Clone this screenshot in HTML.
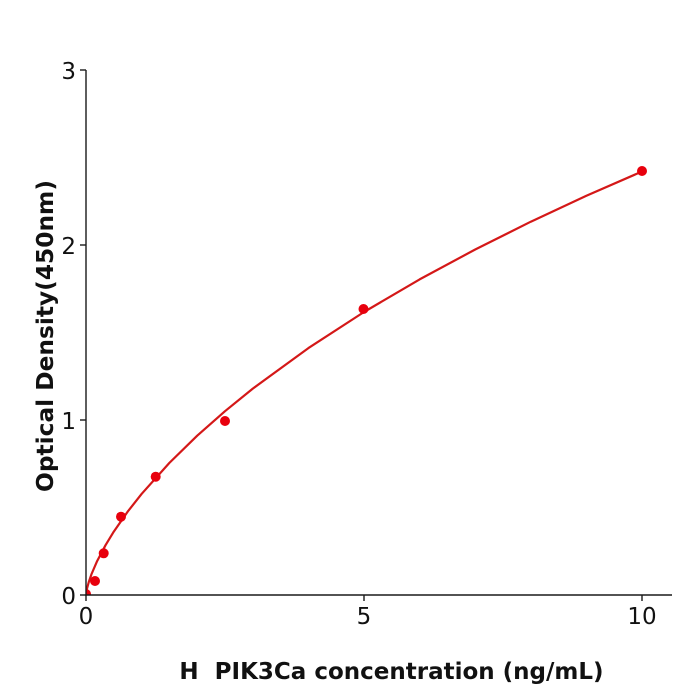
<!DOCTYPE html>
<html>
<head>
<meta charset="utf-8">
<style>
html,body{margin:0;padding:0;background:#fff;}
svg{display:block;}
text{font-family:"DejaVu Sans","Liberation Sans",sans-serif;fill:#111;}
</style>
</head>
<body>
<svg width="700" height="700" viewBox="0 0 700 700" xmlns="http://www.w3.org/2000/svg">
<rect x="0" y="0" width="700" height="700" fill="#fff"/>
<defs>
<clipPath id="ax"><rect x="86" y="60" width="590" height="535"/></clipPath>
</defs>
<!-- curve -->
<polyline clip-path="url(#ax)" fill="none" stroke="#d41818" stroke-width="2.2" stroke-linejoin="round" stroke-linecap="round"
points="86,595 86.56,590.8 87.1,588.2 88.8,582.0 91.56,574.0 97.12,561.1 105.46,545.3 113.8,531.6 127.7,511.6 141.6,493.95 169.4,462.9 197.2,435.7 225,411.2 252.8,388.6 308.4,348.1 364,312.0 419.6,279.4 475.2,249.5 530.8,221.7 586.4,195.8 642,171.5"/>
<!-- points -->
<g fill="#e8000d" clip-path="url(#ax)">
<circle cx="86" cy="594" r="5"/>
<circle cx="95" cy="581" r="5"/>
<circle cx="103.7" cy="553.3" r="5"/>
<circle cx="121" cy="516.7" r="5"/>
<circle cx="155.7" cy="476.7" r="5"/>
<circle cx="225" cy="421" r="5"/>
<circle cx="363.5" cy="309" r="5"/>
</g>
<circle cx="642" cy="171" r="5" fill="#e8000d"/>
<!-- axes -->
<g stroke="#1a1a1a" stroke-width="1.4" fill="none">
<line x1="86" y1="70" x2="86" y2="595.7"/>
<line x1="85.3" y1="595" x2="672" y2="595"/>
<!-- y ticks -->
<line x1="80" y1="595" x2="86" y2="595"/>
<line x1="80" y1="420" x2="86" y2="420"/>
<line x1="80" y1="245" x2="86" y2="245"/>
<line x1="80" y1="70" x2="86" y2="70"/>
<!-- x ticks -->
<line x1="86" y1="595" x2="86" y2="601"/>
<line x1="364" y1="595" x2="364" y2="601"/>
<line x1="642" y1="595" x2="642" y2="601"/>
</g>
<!-- tick labels -->
<g font-size="23" text-anchor="end">
<text x="76" y="604">0</text>
<text x="76" y="429">1</text>
<text x="76" y="254">2</text>
<text x="76" y="79">3</text>
</g>
<g font-size="23" text-anchor="middle">
<text x="86" y="624">0</text>
<text x="364" y="624">5</text>
<text x="642" y="624">10</text>
</g>
<!-- axis labels -->
<text x="391.5" y="679" font-size="23" font-weight="bold" text-anchor="middle" xml:space="preserve">H  PIK3Ca concentration (ng/mL)</text>
<text transform="translate(53,336) rotate(-90)" font-size="23.3" font-weight="bold" text-anchor="middle">Optical Density(450nm)</text>
</svg>
</body>
</html>
